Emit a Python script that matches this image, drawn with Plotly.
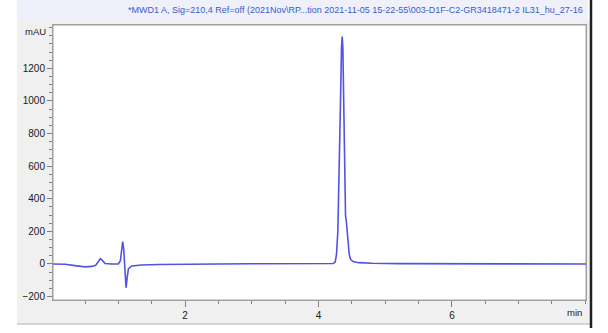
import plotly.graph_objects as go

# ---- data ----
time_min = [0.02, 0.2, 0.35, 0.5, 0.6, 0.66, 0.70, 0.73, 0.76, 0.80, 0.9, 1.0,
            1.03, 1.05, 1.065, 1.08, 1.09, 1.10, 1.115, 1.13, 1.15, 1.2, 1.35, 1.6,
            2.0, 2.5, 3.0, 3.5, 4.0, 4.22, 4.25, 4.27, 4.29, 4.31, 4.33, 4.345, 4.355,
            4.365, 4.375, 4.385, 4.395, 4.405, 4.42, 4.44, 4.46, 4.48, 4.52, 4.6, 4.8,
            5.2, 6.0, 7.0, 8.01]
signal_mau = [0, -2, -10, -18, -15, -8, 15, 33, 22, 3, 0, 0,
              20, 110, 138, 90, 0, -100, -145, -90, -30, -12, -6, -3,
              0, 0, 1, 2, 3, 3, 12, 60, 200, 520, 1000, 1330, 1395,
              1330, 1050, 650, 380, 300, 250, 150, 60, 28, 15, 8, 4,
              2, 1, 0, 0]

x_major_ticks = [2, 4, 6]
x_major_labels = ["2", "4", "6"]
y_major_ticks = [-200, 0, 200, 400, 600, 800, 1000, 1200]
title_text = ("*MWD1 A, Sig=210,4 Ref=off (2021Nov\\RP...tion 2021-11-05 15-22-55"
              "\\003-D1F-C2-GR3418471-2 IL31_hu_27-16")

W, H = 608, 333
L, R, T, B = 53, 586, 25, 300


def px(x):
    return (x - L) / (R - L)


def py(y):
    return (B - y) / (B - T)


fig = go.Figure()
fig.add_trace(go.Scatter(x=time_min, y=signal_mau, mode="lines",
                         line=dict(color="#5252e4", width=1.6),
                         hoverinfo="skip", showlegend=False))

shapes = [
    # gray panel
    dict(type="rect", xref="paper", yref="paper", x0=px(17), x1=px(590), y0=py(324), y1=py(20),
         fillcolor="#f0f0f0", line=dict(width=0), layer="below"),
    dict(type="line", xref="paper", yref="paper", x0=px(17), x1=px(590), y0=py(324), y1=py(324),
         line=dict(color="#b0b0b0", width=1), layer="below"),
    # title bar
    dict(type="rect", xref="paper", yref="paper", x0=px(17), x1=px(588), y0=py(20), y1=py(0),
         fillcolor="#eef1fa", line=dict(width=0), layer="below"),
    # plot area
    dict(type="rect", xref="paper", yref="paper", x0=0, x1=1, y0=0, y1=1,
         fillcolor="white", line=dict(color="#a0a0a0", width=1), layer="below"),
    # black window edge
    dict(type="line", xref="paper", yref="paper", x0=px(591), x1=px(591), y0=py(328), y1=py(0),
         line=dict(color="#202020", width=2.5), layer="above"),
]

annotations = [
    dict(text=title_text, xref="paper", yref="paper", x=px(585), y=py(10),
         xanchor="right", yanchor="middle", showarrow=False,
         font=dict(family="Liberation Sans", size=9, color="#3a5ad0")),
    dict(text="mAU", xref="paper", yref="paper", x=px(48), y=py(31),
         xanchor="right", yanchor="middle", showarrow=False,
         font=dict(family="Liberation Sans", size=9.5, color="#202020")),
    dict(text="min", xref="paper", yref="paper", x=px(584), y=py(312),
         xanchor="right", yanchor="middle", showarrow=False,
         font=dict(family="Liberation Sans", size=9.5, color="#202020")),
]

fig.update_layout(
    width=W, height=H,
    margin=dict(l=L, r=W - R, t=T, b=H - B, pad=0),
    paper_bgcolor="white", plot_bgcolor="white",
    shapes=shapes, annotations=annotations,
    font=dict(family="Liberation Sans", size=10, color="#202020"),
)
fig.update_xaxes(range=[0.02, 8.01], tickvals=x_major_ticks, ticktext=x_major_labels,
                 ticks="outside", ticklen=6, tickcolor="#808080", tickwidth=1,
                 minor=dict(dtick=0.5, tick0=0, ticks="outside", ticklen=3, tickcolor="#808080"),
                 showgrid=False, zeroline=False, showline=True, linecolor="#a0a0a0",
                 mirror=True, tickfont=dict(size=10), fixedrange=True)
fig.update_yaxes(range=[-221, 1466], tickvals=y_major_ticks,
                 ticks="outside", ticklen=5, tickcolor="#808080", tickwidth=1,
                 minor=dict(dtick=50, tick0=0, ticks="outside", ticklen=3, tickcolor="#808080"),
                 showgrid=False, zeroline=False, showline=True, linecolor="#a0a0a0",
                 mirror=True, tickfont=dict(size=10), fixedrange=True)

fig.write_html("out.html", config=dict(displayModeBar=False))
